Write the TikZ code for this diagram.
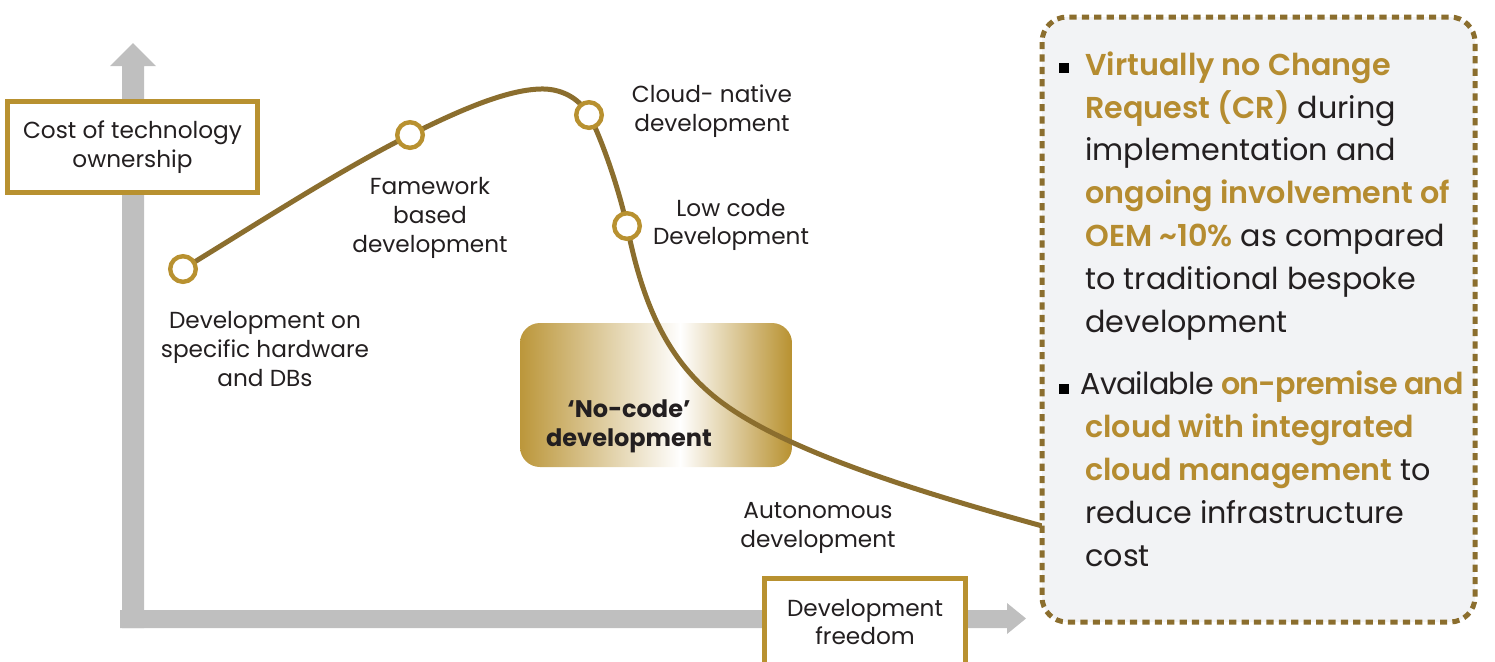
\documentclass[tikz,border=0pt]{standalone}
\usepackage{fontspec}
\setmainfont{Poppins}[BoldFont={Poppins SemiBold}]
\newfontfamily\heavyfont{Poppins}[UprightFont={Poppins Bold}]
\usepackage{xcolor}
\usepackage{tikz}
\usetikzlibrary{calc}
\definecolor{goldline}{RGB}{139,110,46}
\definecolor{goldbox}{RGB}{184,145,48}
\definecolor{goldtext}{RGB}{181,140,48}
\definecolor{axisgray}{RGB}{191,191,191}
\definecolor{panelgray}{RGB}{242,243,245}
\definecolor{inkblack}{RGB}{35,31,32}
\newcommand{\goldbf}[1]{\textcolor{goldtext}{\bfseries #1}}

\begin{document}
\begin{tikzpicture}[x=0.5pt,y=-0.5pt,
    stagetext/.style={align=center,font=\fontsize{11.6}{14.3}\selectfont,text=inkblack,inner sep=0pt},
    axisbox/.style={draw=goldbox,line width=2.5pt,fill=white,align=center,
        font=\fontsize{11.6}{14.3}\selectfont,text=inkblack,inner sep=0pt},
    milestone/.style={circle,draw=goldbox,fill=white,line width=2.2pt,minimum size=12.8pt,inner sep=0pt},
    paratext/.style={align=left,font=\fontsize{15.1}{21.4}\selectfont,text=inkblack,inner sep=0pt},
    bulletsq/.style={fill=black,minimum size=5pt,inner sep=0pt}]
            \useasboundingbox (0,0) rectangle (1495,661);
            \clip (0,0) rectangle (1495,661);

            \coordinate (p1) at (183,269);
            \coordinate (p2) at (410,135);
            \coordinate (top) at (545,89);
            \coordinate (p3) at (589,115);
            \coordinate (p4) at (627,226);
            \coordinate (p5) at (710,393);
            \coordinate (pend) at (1046,527);

            % axes
            \fill[axisgray] (122,628) -- (122,66) -- (110,66) -- (133,43) -- (156,66) -- (144,66) -- (144,628) -- cycle;
            \fill[axisgray] (120,610) -- (1007,610) -- (1007,603) -- (1026,618.5) -- (1007,634) -- (1007,628) -- (120,628) -- cycle;

            % no-code box
            \begin{scope}
                \clip[rounded corners=10pt] (520,323) rectangle (792,467);
                \shade[left color=goldbox!95!white, right color=white] (520,323) rectangle (681,467);
                \shade[left color=white, right color=goldbox] (680,323) rectangle (792,467);
            \end{scope}
            \node[stagetext, font=\fontsize{12}{14.5}\selectfont\heavyfont] (nocode) at (629,426) {‘No-code’\\development};

            % curve
            \draw[line width=2.5pt, goldline] (p1) .. controls (260,222) and (340,170) .. (p2)
                .. controls (460,110) and (510,88) .. (top)
                .. controls (565,90) and (580,100) .. (p3)
                .. controls (600,135) and (618,185) .. (p4)
                .. controls (640,290) and (660,350) .. (p5)
                .. controls (770,445) and (900,487) .. (pend);

            \node[milestone] (m1) at (p1) {};
            \node[milestone] (m2) at (p2) {};
            \node[milestone] (m3) at (p3) {};
            \node[milestone] (m4) at (p4) {};

            % stage labels
            \node[stagetext] (hardware) at (265,349) {Development on\\specific hardware\\and DBs};
            \node[stagetext] (framework) at (430,218) {Famework\\based\\development};
            \node[stagetext] (cloud) at (712,111) {Cloud- native\\development};
            \node[stagetext] (lowcode) at (731,225) {Low code\\Development};
            \node[stagetext] (autonomous) at (818,528) {Autonomous\\development};

            % axis titles
            \node[axisbox, minimum width=125pt, minimum height=45.5pt] (costbox) at (132.5,147) {Cost of technology\\ownership};
            \node[axisbox, minimum width=100.5pt, minimum height=43.5pt] (freebox) at (865,622) {Development\\freedom};

            % right panel
            \draw[goldline, line width=2.5pt, dash pattern=on 3.6pt off 2.6pt, fill=panelgray, rounded corners=12.5pt] (1042,17) rectangle (1475,622);
            \node[bulletsq] (b1) at (1063.5,67.5) {};
            \node[bulletsq] (b2) at (1064,388.5) {};
            \node[paratext, anchor=base west] (para1) at (1085,332) {\goldbf{Virtually no Change}\\\goldbf{Request (CR)} during\\implementation and\\\goldbf{ongoing involvement of}\\\goldbf{OEM \textasciitilde10\%} as compared\\to traditional bespoke\\development};
            \node[paratext, anchor=base west] (para2) at (1080,566) {{\addfontfeatures{LetterSpace=-2.5}Available \goldbf{on-premise and}}\\\hspace*{2.5pt}\goldbf{cloud with integrated}\\\hspace*{2.5pt}\goldbf{cloud management} to\\\hspace*{2.5pt}reduce infrastructure\\\hspace*{2.5pt}cost};
        \end{tikzpicture}
\end{document}
